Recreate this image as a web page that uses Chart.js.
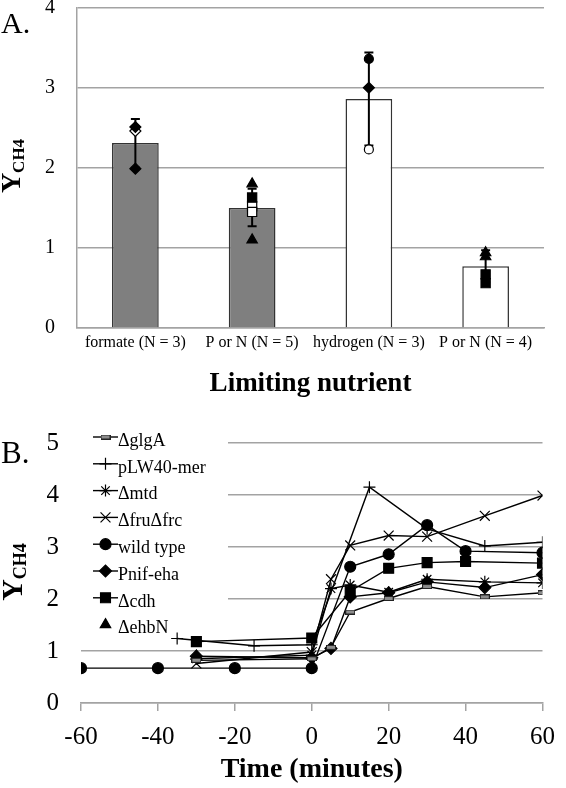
<!DOCTYPE html>
<html>
<head>
<meta charset="utf-8">
<script src="https://cdn.jsdelivr.net/npm/chart.js@4.4.1/dist/chart.umd.min.js"></script>
<style>
html, body { margin: 0; padding: 0; background: #fff; }
#fig { position: relative; width: 566px; height: 788px; overflow: hidden; font-family: "Liberation Serif", "Times New Roman", serif; color: #000; }
#fig canvas { position: absolute; left: 0; }
.panel { position: absolute; left: 1px; line-height: 1; }
.ylab { position: absolute; font-weight: bold; white-space: nowrap; line-height: 1; transform: translate(-50%, -50%) rotate(-90deg); }
.ylab sub { vertical-align: -0.25em; }
</style>
</head>
<body>
<div id="fig">
	<canvas id="chartA" width="566" height="400" style="top:0"></canvas>
	<canvas id="chartB" width="566" height="388" style="top:400px"></canvas>
	<div class="panel" style="top:8px;font-size:30px">A.</div>
	<div class="panel" style="top:437px;font-size:31px">B.</div>
	<div class="ylab" style="left:12px;top:166px;font-size:28px">Y<sub style="font-size:17px">CH4</sub></div>
	<div class="ylab" style="left:13px;top:572px;font-size:30px">Y<sub style="font-size:18px">CH4</sub></div>
</div>
<script>
// Panel A: yield per limiting nutrient
const categories = ['formate (N = 3)', 'P or N (N = 5)', 'hydrogen (N = 3)', 'P or N (N = 4)'];
const meanYield = [2.31, 1.50, 2.86, 0.77];
const errLow = [2.00, 1.27, 2.28, 0.57];
const errHigh = [2.61, 1.74, 3.44, 0.97];
// single cultures, [category index, value]
const filledDiamonds = [[0, 2.51], [0, 1.99], [2, 3.00]];
const openDiamonds = [[0, 2.46]];
const filledCircles = [[2, 3.36]];
const openCircles = [[2, 2.23]];
const filledSquares = [[1, 1.63], [3, 0.67], [3, 0.56]];
const openSquares = [[1, 1.52], [1, 1.45]];
const triangles = [[1, 1.80], [1, 1.10], [3, 0.94], [3, 0.89]];

// Panel B: yield over time per strain
const strains = ['ΔglgA', 'pLW40-mer', 'Δmtd', 'ΔfruΔfrc', 'wild type', 'Pnif-eha', 'Δcdh', 'ΔehbN'];
const tGlgA = [-30, 0, 5, 10, 20, 30, 45, 60];
const yGlgA = [0.82, 0.85, 1.07, 1.75, 2.01, 2.24, 2.04, 2.12];
const tPlw = [-35, -15, 0, 15, 30, 45, 60];
const yPlw = [1.24, 1.10, 1.12, 4.15, 3.35, 3.02, 3.09];
const tMtd = [-30, 0, 5, 10, 20, 30, 45, 60];
const yMtd = [0.85, 0.92, 2.20, 2.27, 2.13, 2.38, 2.33, 2.31];
const tFru = [-30, 0, 5, 10, 20, 30, 45, 60];
const yFru = [0.76, 0.98, 2.38, 3.03, 3.22, 3.20, 3.60, 3.99];
const tWild = [-60, -40, -20, 0, 10, 20, 30, 40, 60];
const yWild = [0.67, 0.67, 0.67, 0.67, 2.62, 2.86, 3.42, 2.92, 2.89];
const tPnif = [-30, 0, 5, 10, 20, 30, 45, 60];
const yPnif = [0.90, 0.87, 1.05, 2.04, 2.12, 2.33, 2.22, 2.47];
const tCdh = [-30, 0, 10, 20, 30, 40, 60];
const yCdh = [1.18, 1.25, 2.15, 2.59, 2.70, 2.72, 2.69];
const tEhb = [-30, 0];
const yEhb = [0.90, 0.90];

const serif = '"Liberation Serif", "Times New Roman", serif';
const gridGray = '#a3a3a3';

// ---- Panel A ----
const pts = arr => arr.map(([c, v]) => ({ x: categories[c], y: v }));
const markerSet = (data, style, fill, r) => ({
	type: 'line', data: pts(data), showLine: false, order: 0,
	pointStyle: style, pointRadius: r, pointHoverRadius: r,
	pointBackgroundColor: fill, pointBorderColor: '#000', pointBorderWidth: 1.2
});
const errorSets = categories.map((c, i) => ({
	type: 'line', order: 1,
	data: [{ x: c, y: errLow[i] }, { x: c, y: errHigh[i] }],
	borderColor: '#000', borderWidth: 2,
	pointStyle: 'line', pointRadius: 4.5, pointHoverRadius: 4.5, pointBorderColor: '#000', pointBorderWidth: 2
}));

new Chart(document.getElementById('chartA'), {
	type: 'bar',
	data: {
		labels: categories,
		datasets: [
			{ type: 'bar', data: meanYield, order: 2, backgroundColor: ['#7f7f7f', '#7f7f7f', '#ffffff', '#ffffff'], borderColor: '#333', borderWidth: 1.5, barPercentage: 0.4, categoryPercentage: 1 },
			...errorSets,
			markerSet(filledDiamonds, 'rectRot', '#000', 5.5),
			markerSet(openDiamonds, 'rectRot', '#fff', 5.5),
			markerSet(filledCircles, 'circle', '#000', 4.5),
			markerSet(openCircles, 'circle', '#fff', 4.5),
			markerSet(filledSquares, 'rect', '#000', 6.5),
			markerSet(openSquares, 'rect', '#fff', 6.5),
			markerSet(triangles, 'triangle', '#000', 6)
		]
	},
	options: {
		responsive: false, animation: false, events: [],
		layout: { padding: { top: 7, right: 22, left: 0, bottom: 0 } },
		plugins: { legend: { display: false }, tooltip: { enabled: false } },
		scales: {
			x: {
				grid: { display: false },
				border: { display: true, color: gridGray, width: 1.5 },
				ticks: { color: '#000', font: { family: serif, size: 16 }, padding: -3, maxRotation: 0, autoSkip: false },
				title: { display: true, text: 'Limiting nutrient', color: '#000', font: { family: serif, size: 27, weight: 'bold' }, padding: { top: 0, bottom: 0 } },
				afterFit: s => { s.height = 72; }
			},
			y: {
				min: 0, max: 4,
				ticks: { stepSize: 1, color: '#000', font: { family: serif, size: 20 }, padding: 22 },
				grid: { color: gridGray, lineWidth: 1.5, drawTicks: false },
				border: { display: true, color: gridGray, width: 1.5 },
				// keep the tick labels from pushing the plot down
				afterFit: s => { s.width = 77; s.paddingTop = 0; s.paddingBottom = 0; }
			}
		}
	}
});

// ---- Panel B ----
const glgaMark = document.createElement('canvas');
glgaMark.width = 10; glgaMark.height = 5;
const gm = glgaMark.getContext('2d');
gm.fillStyle = '#8c8c8c'; gm.fillRect(0, 0, 10, 5);
gm.strokeStyle = '#222'; gm.lineWidth = 1; gm.strokeRect(0.5, 0.5, 9, 4);

const seriesB = [[tGlgA, yGlgA], [tPlw, yPlw], [tMtd, yMtd], [tFru, yFru], [tWild, yWild], [tPnif, yPnif], [tCdh, yCdh], [tEhb, yEhb]];
const stylesB = [
	{ pointStyle: glgaMark, r: 5 },
	{ pointStyle: 'cross', r: 6 },
	{ pointStyle: 'star', r: 6 },
	{ pointStyle: 'crossRot', r: 7 },
	{ pointStyle: 'circle', r: 5.5 },
	{ pointStyle: 'rectRot', r: 6 },
	{ pointStyle: 'rect', r: 7 },
	{ pointStyle: 'triangle', r: 6, noLine: true }
];

const datasetsB = strains.map((name, i) => ({
	label: name,
	data: seriesB[i][0].map((t, k) => ({ x: t, y: seriesB[i][1][k] })),
	showLine: !stylesB[i].noLine,
	borderColor: '#000', borderWidth: 1.4,
	pointStyle: stylesB[i].pointStyle, pointRadius: stylesB[i].r, pointHoverRadius: stylesB[i].r,
	pointBackgroundColor: '#000', pointBorderColor: '#000', pointBorderWidth: 1.2
}));

// legend sits inside the plot, on a white box
const insetLegend = {
	id: 'insetLegend',
	afterDatasetsDraw(chart, args, o) {
		const ctx = chart.ctx;
		ctx.save();
		ctx.fillStyle = '#fff';
		ctx.fillRect(o.left, o.top, o.width, o.height);
		chart.data.datasets.forEach((ds, i) => {
			const y = o.firstRow + i * o.rowHeight;
			ctx.strokeStyle = '#000'; ctx.fillStyle = '#000';
			if (ds.showLine) {
				ctx.lineWidth = 1.4;
				ctx.beginPath(); ctx.moveTo(o.sampleX, y); ctx.lineTo(o.sampleX + o.sampleLen, y); ctx.stroke();
			}
			ctx.lineWidth = ds.pointBorderWidth;
			Chart.helpers.drawPoint(ctx, { pointStyle: ds.pointStyle, radius: ds.pointRadius, rotation: 0, borderWidth: ds.pointBorderWidth }, o.sampleX + o.sampleLen / 2, y);
			ctx.fillStyle = '#000';
			ctx.font = o.font;
			ctx.textBaseline = 'middle';
			ctx.textAlign = 'left';
			ctx.fillText(ds.label, o.textX, y + o.textDy);
		});
		ctx.restore();
	}
};

new Chart(document.getElementById('chartB'), {
	type: 'scatter',
	data: { datasets: datasetsB },
	plugins: [insetLegend],
	options: {
		responsive: false, animation: false, events: [],
		layout: { padding: { top: 43, right: 13, left: 0, bottom: 0 } },
		plugins: {
			legend: { display: false }, tooltip: { enabled: false },
			insetLegend: { left: 80, top: 24, width: 148, height: 208, firstRow: 37, rowHeight: 26.8, sampleX: 93, sampleLen: 25, textX: 118, textDy: 4, font: '18px ' + serif }
		},
		scales: {
			x: {
				type: 'linear', min: -60, max: 60,
				ticks: { stepSize: 20, color: '#000', font: { family: serif, size: 25 }, padding: 11 },
				grid: { drawOnChartArea: false, drawTicks: true, tickLength: 8, color: gridGray, lineWidth: 1.5 },
				border: { display: true, color: gridGray, width: 1.5 },
				title: { display: true, text: 'Time (minutes)', color: '#000', font: { family: serif, size: 28, weight: 'bold' }, padding: { top: 0, bottom: 1 } },
				afterFit: s => { s.height = 85; }
			},
			y: {
				min: 0, max: 5,
				ticks: { stepSize: 1, color: '#000', font: { family: serif, size: 25 }, padding: 22 },
				grid: { color: gridGray, lineWidth: 1.5, drawTicks: false },
				border: { display: false },
				afterFit: s => { s.width = 81; }
			}
		}
	}
});
</script>
</body>
</html>
